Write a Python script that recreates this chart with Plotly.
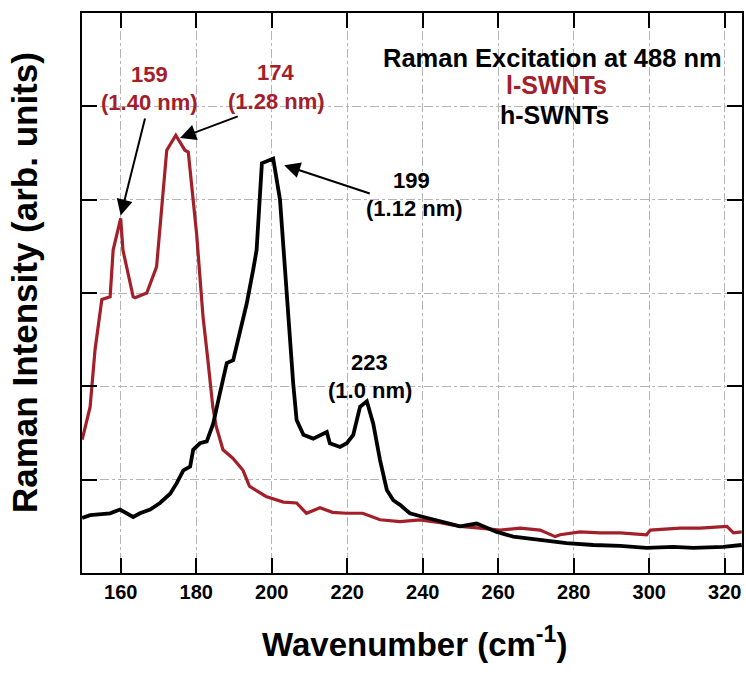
import plotly.graph_objects as go

# ---- data ----
l_swnt_x = [149.8, 151.9, 153.2, 155.0, 157.2, 158.0, 160.0, 160.6, 163.3, 163.8, 166.9, 169.5,
            172.2, 174.6, 177.0, 177.9, 180.1, 181.8, 183.1, 184.4, 185.3, 187.1, 189.7, 192.4,
            194.1, 198.5, 203.1, 206.6, 209.2, 212.8, 216.1, 219.8, 224.1, 228.7, 234.0, 239.3,
            244.6, 249.9, 255.2, 260.5, 265.8, 271.1, 275.1, 276.4, 281.7, 287.0, 292.3, 299.3,
            300.3, 308.2, 313.5, 320.6, 322.3, 324.5]
l_swnt_y = [1.43, 1.78, 2.39, 2.93, 2.96, 3.46, 3.80, 3.46, 2.96, 2.95, 3.00, 3.28,
            4.53, 4.69, 4.53, 4.51, 3.64, 2.75, 2.28, 1.78, 1.57, 1.32, 1.23, 1.10,
            0.93, 0.82, 0.76, 0.75, 0.64, 0.70, 0.65, 0.64, 0.64, 0.57, 0.55, 0.57,
            0.54, 0.50, 0.48, 0.46, 0.48, 0.46, 0.39, 0.41, 0.44, 0.43, 0.43, 0.41,
            0.46, 0.48, 0.48, 0.50, 0.43, 0.44]

h_swnt_x = [149.8, 151.9, 157.2, 159.8, 163.3, 165.1, 167.8, 170.4, 173.1, 174.8, 176.6, 178.4,
            179.2, 181.0, 182.8, 184.5, 186.3, 188.1, 189.8, 191.6, 193.4, 195.1, 196.0, 197.4,
            200.4, 202.2, 203.1, 204.0, 205.7, 206.6, 208.4, 211.0, 214.6, 215.4, 218.1, 219.9,
            221.6, 223.4, 225.2, 226.9, 228.7, 230.5, 232.2, 234.0, 236.6, 240.2, 244.6, 249.9,
            254.3, 259.6, 264.0, 271.1, 278.1, 285.2, 292.3, 299.3, 306.4, 311.7, 317.0, 319.6,
            324.5]
h_swnt_y = [0.59, 0.62, 0.64, 0.68, 0.60, 0.64, 0.68, 0.75, 0.85, 0.96, 1.10, 1.14,
            1.32, 1.39, 1.41, 1.60, 1.93, 2.25, 2.28, 2.57, 2.89, 3.25, 3.46, 4.39,
            4.44, 4.00, 3.46, 3.00, 2.03, 1.64, 1.48, 1.44, 1.51, 1.39, 1.35, 1.39,
            1.48, 1.78, 1.84, 1.60, 1.21, 0.89, 0.78, 0.73, 0.64, 0.60, 0.55, 0.50,
            0.53, 0.44, 0.39, 0.35, 0.32, 0.30, 0.29, 0.27, 0.28, 0.27, 0.27, 0.28,
            0.30]

x_ticks = [160, 180, 200, 220, 240, 260, 280, 300, 320]
y_ticks = [1, 2, 3, 4, 5]

peak_labels_red = [("159", "(1.40 nm)"), ("174", "(1.28 nm)")]
peak_labels_black = [("199", "(1.12 nm)"), ("223", "(1.0 nm)")]

RED = "#a3202a"
FONT = "Liberation Sans, Arial, Helvetica, sans-serif"

fig = go.Figure()
fig.add_trace(go.Scatter(x=l_swnt_x, y=l_swnt_y, mode="lines", name="l-SWNTs",
                         line=dict(color=RED, width=3.2)))
fig.add_trace(go.Scatter(x=h_swnt_x, y=h_swnt_y, mode="lines", name="h-SWNTs",
                         line=dict(color="black", width=3.8)))

axis_common = dict(showline=True, linecolor="black", linewidth=2, mirror="allticks",
                   ticks="inside", ticklen=15, tickwidth=2, tickcolor="black",
                   showgrid=True, gridcolor="#b5b5b5", gridwidth=1, griddash="dashdot",
                   zeroline=False, automargin=False)

fig.update_xaxes(range=[149.75, 324.58], tickvals=x_ticks,
                 tickfont=dict(family=FONT, size=20, color="black", weight="bold"),
                 **axis_common)
fig.update_yaxes(range=[0, 6], tickvals=y_ticks, showticklabels=False, **axis_common)


def peak_tip(xs, ys, lo, hi):
    """Locate the highest sample of a series between lo and hi."""
    best = max((y, x) for x, y in zip(xs, ys) if lo <= x <= hi)
    return best[1], best[0]


annos = []


def txt(x, y, s, color, size, tip=None):
    a = dict(x=x, y=y, xref="x", yref="y", text=s, showarrow=False,
             font=dict(family=FONT, size=size, color=color, weight="bold"),
             xanchor="center", yanchor="middle")
    if tip is not None:
        a.update(showarrow=True, x=tip[0], y=tip[1], ax=x, ay=y, axref="x", ayref="y",
                 arrowhead=2, arrowsize=1.6, arrowwidth=2, arrowcolor="black",
                 standoff=0, startstandoff=2)
    annos.append(a)


px159, py159 = peak_tip(l_swnt_x, l_swnt_y, 155, 163)
px174, py174 = peak_tip(l_swnt_x, l_swnt_y, 170, 180)
px199, py199 = peak_tip(h_swnt_x, h_swnt_y, 195, 205)

# peak labels (arrows attached to the nm labels)
txt(167.5, 5.34, peak_labels_red[0][0], RED, 22)
txt(167.5, 5.04, peak_labels_red[0][1], RED, 22, tip=(px159, py159 + 0.03))
txt(200.9, 5.36, peak_labels_red[1][0], RED, 22)
txt(201.4, 5.05, peak_labels_red[1][1], RED, 22, tip=(px174 + 1.1, py174 - 0.03))
txt(236.9, 4.21, peak_labels_black[0][0], "black", 22)
txt(237.7, 3.91, peak_labels_black[0][1], "black", 22, tip=(px199 + 2.9, py199 - 0.07))
txt(226.0, 2.26, peak_labels_black[1][0], "black", 22)
txt(226.0, 1.96, peak_labels_black[1][1], "black", 22)

# legend-like text
txt(274.3, 5.52, "Raman Excitation at 488 nm", "black", 25.5)
txt(275.5, 5.23, "l-SWNTs", RED, 25)
txt(275.0, 4.91, "h-SWNTs", "black", 25)

# axis titles
annos.append(dict(x=(414 - 82) / 660, y=(573 - 642) / 560, xref="paper", yref="paper",
                  text="Wavenumber (cm<sup>-1</sup>)", showarrow=False,
                  font=dict(family=FONT, size=33, color="black", weight="bold"),
                  xanchor="center", yanchor="middle"))
annos.append(dict(x=(24 - 82) / 660, y=(573 - 283) / 560, xref="paper", yref="paper",
                  text="Raman Intensity (arb. units)", showarrow=False, textangle=-90,
                  font=dict(family=FONT, size=35, color="black", weight="bold"),
                  xanchor="center", yanchor="middle"))

fig.update_layout(width=746, height=675, margin=dict(l=82, r=4, t=13, b=102),
                  paper_bgcolor="white", plot_bgcolor="white", showlegend=False,
                  annotations=annos)

fig.write_html("out.html", config={"displayModeBar": False},
               post_script="document.body.style.margin='0px';")
